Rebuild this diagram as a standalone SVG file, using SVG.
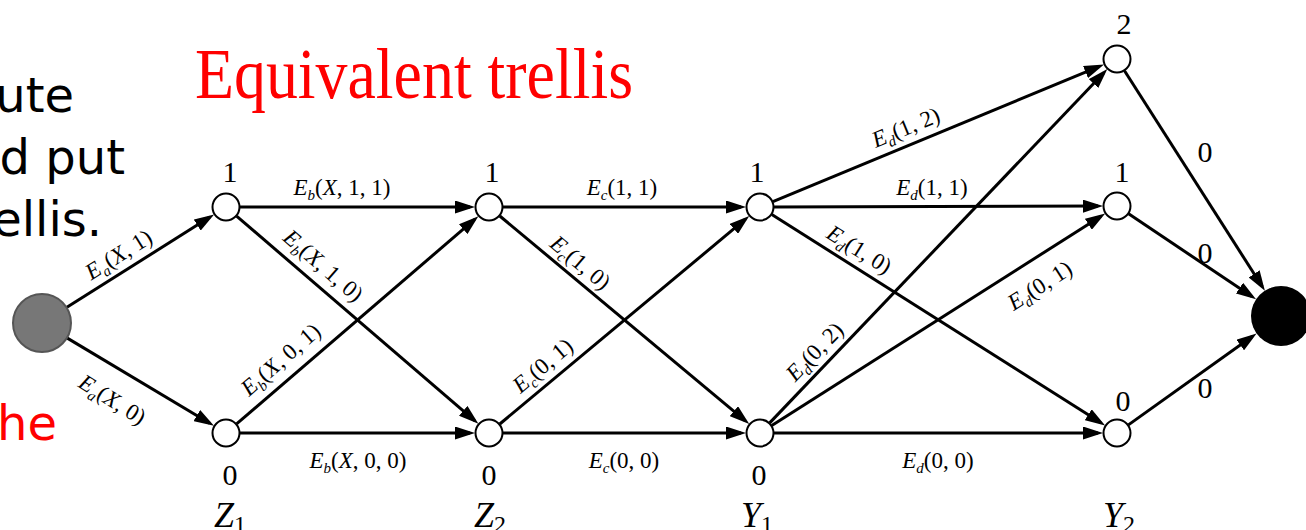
<svg xmlns="http://www.w3.org/2000/svg" width="1306" height="530" viewBox="0 0 1306 530">
<style>
.node{fill:#fff;stroke:#000;stroke-width:2}
.edge{stroke:#000;stroke-width:3;fill:none;marker-end:url(#arr)}
.lab{font-family:"Liberation Serif","Times New Roman",serif;font-size:23px;fill:#000;text-anchor:middle}
.i{font-style:italic}
.sub{font-size:15px;font-style:italic}
.nl{font-family:"Liberation Serif","Times New Roman",serif;font-size:30px;fill:#000;text-anchor:middle}
.var{font-family:"Liberation Serif","Times New Roman",serif;font-size:36px;font-style:italic;fill:#000;text-anchor:middle}
.vsub{font-size:24px;font-style:normal}
.side{font-family:"DejaVu Sans",sans-serif;font-size:48px;text-anchor:end}
</style>
<defs>
<marker id="arr" markerUnits="userSpaceOnUse" viewBox="0 0 20 13" refX="15" refY="6.5" markerWidth="20" markerHeight="13" orient="auto">
<path d="M0,0 L20,6.5 L0,13 Z" fill="#000"/>
</marker>
</defs>
<rect width="1306" height="530" fill="#fff"/>
<g id="side-text">
<text class="side" x="74" y="112" fill="#000">ute</text>
<text class="side" x="125" y="174" fill="#000">d put</text>
<text class="side" x="102" y="236" fill="#000">ellis.</text>
<text class="side" x="57" y="440" fill="#ff0000">he</text>
</g>
<text id="title" x="195" y="98" font-family="Liberation Serif,'Times New Roman',serif" font-size="72" fill="#ff0000" textLength="438" lengthAdjust="spacingAndGlyphs">Equivalent trellis</text>
<g id="connectors">
<line class="edge" x1="66.5" y1="307.5" x2="209.9" y2="217.1"/>
<line class="edge" x1="66.9" y1="337.9" x2="209.7" y2="423.3"/>
<line class="edge" x1="240" y1="207" x2="470" y2="207"/>
<line class="edge" x1="240" y1="433" x2="470" y2="433"/>
<line class="edge" x1="236.6" y1="216.1" x2="474.6" y2="420.6"/>
<line class="edge" x1="236.6" y1="423.9" x2="474.6" y2="219.4"/>
<line class="edge" x1="503" y1="207" x2="741" y2="207"/>
<line class="edge" x1="503" y1="433" x2="741" y2="433"/>
<line class="edge" x1="499.8" y1="216" x2="745.4" y2="420.8"/>
<line class="edge" x1="499.8" y1="424" x2="745.4" y2="219.2"/>
<line class="edge" x1="772.9" y1="201.6" x2="1099.4" y2="66.3"/>
<line class="edge" x1="774" y1="207" x2="1098" y2="206.1"/>
<line class="edge" x1="771.8" y1="214.5" x2="1100.9" y2="422.8"/>
<line class="edge" x1="769.7" y1="422.9" x2="1103.9" y2="72.7"/>
<line class="edge" x1="771.8" y1="425.5" x2="1101" y2="216.2"/>
<line class="edge" x1="774" y1="433" x2="1098" y2="433"/>
<line class="edge" x1="1124.5" y1="70.8" x2="1262.2" y2="286.5"/>
<line class="edge" x1="1128.6" y1="213.8" x2="1251.9" y2="296.5"/>
<line class="edge" x1="1128.4" y1="424.9" x2="1252.5" y2="336.3"/>
</g>
<g id="edge-labels">
<g transform="translate(119,255) rotate(-32)"><text class="lab" x="0" y="7"><tspan class="i">E</tspan><tspan class="sub" dy="5">a</tspan><tspan dy="-5">(</tspan><tspan class="i">X</tspan>, 1)</text></g>
<g transform="translate(112,400) rotate(32)"><text class="lab" x="0" y="7"><tspan class="i">E</tspan><tspan class="sub" dy="5">a</tspan><tspan dy="-5">(</tspan><tspan class="i">X</tspan>, 0)</text></g>
<text class="lab" x="342" y="195"><tspan class="i">E</tspan><tspan class="sub" dy="5">b</tspan><tspan dy="-5">(</tspan><tspan class="i">X</tspan>, 1, 1)</text>
<g transform="translate(323,266) rotate(41)"><text class="lab" x="0" y="7"><tspan class="i">E</tspan><tspan class="sub" dy="5">b</tspan><tspan dy="-5">(</tspan><tspan class="i">X</tspan>, 1, 0)</text></g>
<g transform="translate(281,360) rotate(-41)"><text class="lab" x="0" y="7"><tspan class="i">E</tspan><tspan class="sub" dy="5">b</tspan><tspan dy="-5">(</tspan><tspan class="i">X</tspan>, 0, 1)</text></g>
<text class="lab" x="358" y="468"><tspan class="i">E</tspan><tspan class="sub" dy="5">b</tspan><tspan dy="-5">(</tspan><tspan class="i">X</tspan>, 0, 0)</text>
<text class="lab" x="622" y="195"><tspan class="i">E</tspan><tspan class="sub" dy="5">c</tspan><tspan dy="-5">(1, 1)</tspan></text>
<g transform="translate(580,263) rotate(40)"><text class="lab" x="0" y="7"><tspan class="i">E</tspan><tspan class="sub" dy="5">c</tspan><tspan dy="-5">(1, 0)</tspan></text></g>
<g transform="translate(543,366) rotate(-40)"><text class="lab" x="0" y="7"><tspan class="i">E</tspan><tspan class="sub" dy="5">c</tspan><tspan dy="-5">(0, 1)</tspan></text></g>
<text class="lab" x="624" y="468"><tspan class="i">E</tspan><tspan class="sub" dy="5">c</tspan><tspan dy="-5">(0, 0)</tspan></text>
<g transform="translate(906,128) rotate(-22.5)"><text class="lab" x="0" y="7"><tspan class="i">E</tspan><tspan class="sub" dy="5">d</tspan><tspan dy="-5">(1, 2)</tspan></text></g>
<text class="lab" x="932" y="195"><tspan class="i">E</tspan><tspan class="sub" dy="5">d</tspan><tspan dy="-5">(1, 1)</tspan></text>
<g transform="translate(859,250) rotate(32)"><text class="lab" x="0" y="7"><tspan class="i">E</tspan><tspan class="sub" dy="5">d</tspan><tspan dy="-5">(1, 0)</tspan></text></g>
<g transform="translate(1040,286) rotate(-32.5)"><text class="lab" x="0" y="7"><tspan class="i">E</tspan><tspan class="sub" dy="5">d</tspan><tspan dy="-5">(0, 1)</tspan></text></g>
<g transform="translate(815,352) rotate(-46)"><text class="lab" x="0" y="7"><tspan class="i">E</tspan><tspan class="sub" dy="5">d</tspan><tspan dy="-5">(0, 2)</tspan></text></g>
<text class="lab" x="938" y="468"><tspan class="i">E</tspan><tspan class="sub" dy="5">d</tspan><tspan dy="-5">(0, 0)</tspan></text>
<text class="nl" x="1205" y="162">0</text>
<text class="nl" x="1205" y="263">0</text>
<text class="nl" x="1205" y="398">0</text>
</g>
<g id="source"><circle cx="42" cy="323" r="29" fill="#777" stroke="#555" stroke-width="2"/></g>
<g id="sink"><circle cx="1281" cy="316" r="30" fill="#000"/></g>
<g id="Z1-1"><circle class="node" cx="226" cy="207" r="13.5"/><text class="nl" x="230" y="182">1</text></g>
<g id="Z1-0"><circle class="node" cx="226" cy="433" r="13.5"/><text class="nl" x="230" y="485">0</text></g>
<g id="Z2-1"><circle class="node" cx="489" cy="207" r="13.5"/><text class="nl" x="492" y="182">1</text></g>
<g id="Z2-0"><circle class="node" cx="489" cy="433" r="13.5"/><text class="nl" x="489" y="485">0</text></g>
<g id="Y1-1"><circle class="node" cx="760" cy="207" r="13.5"/><text class="nl" x="757" y="182">1</text></g>
<g id="Y1-0"><circle class="node" cx="760" cy="433" r="13.5"/><text class="nl" x="759" y="485">0</text></g>
<g id="Y2-2"><circle class="node" cx="1117" cy="59" r="13.5"/><text class="nl" x="1124" y="34">2</text></g>
<g id="Y2-1"><circle class="node" cx="1117" cy="206" r="13.5"/><text class="nl" x="1122" y="182">1</text></g>
<g id="Y2-0"><circle class="node" cx="1117" cy="433" r="13.5"/><text class="nl" x="1123" y="411">0</text></g>
<g id="stage-labels">
<text class="var" x="230" y="527">Z<tspan class="vsub" dy="5">1</tspan></text>
<text class="var" x="490" y="527">Z<tspan class="vsub" dy="5">2</tspan></text>
<text class="var" x="757" y="527">Y<tspan class="vsub" dy="5">1</tspan></text>
<text class="var" x="1119" y="527">Y<tspan class="vsub" dy="5">2</tspan></text>
</g>
</svg>
